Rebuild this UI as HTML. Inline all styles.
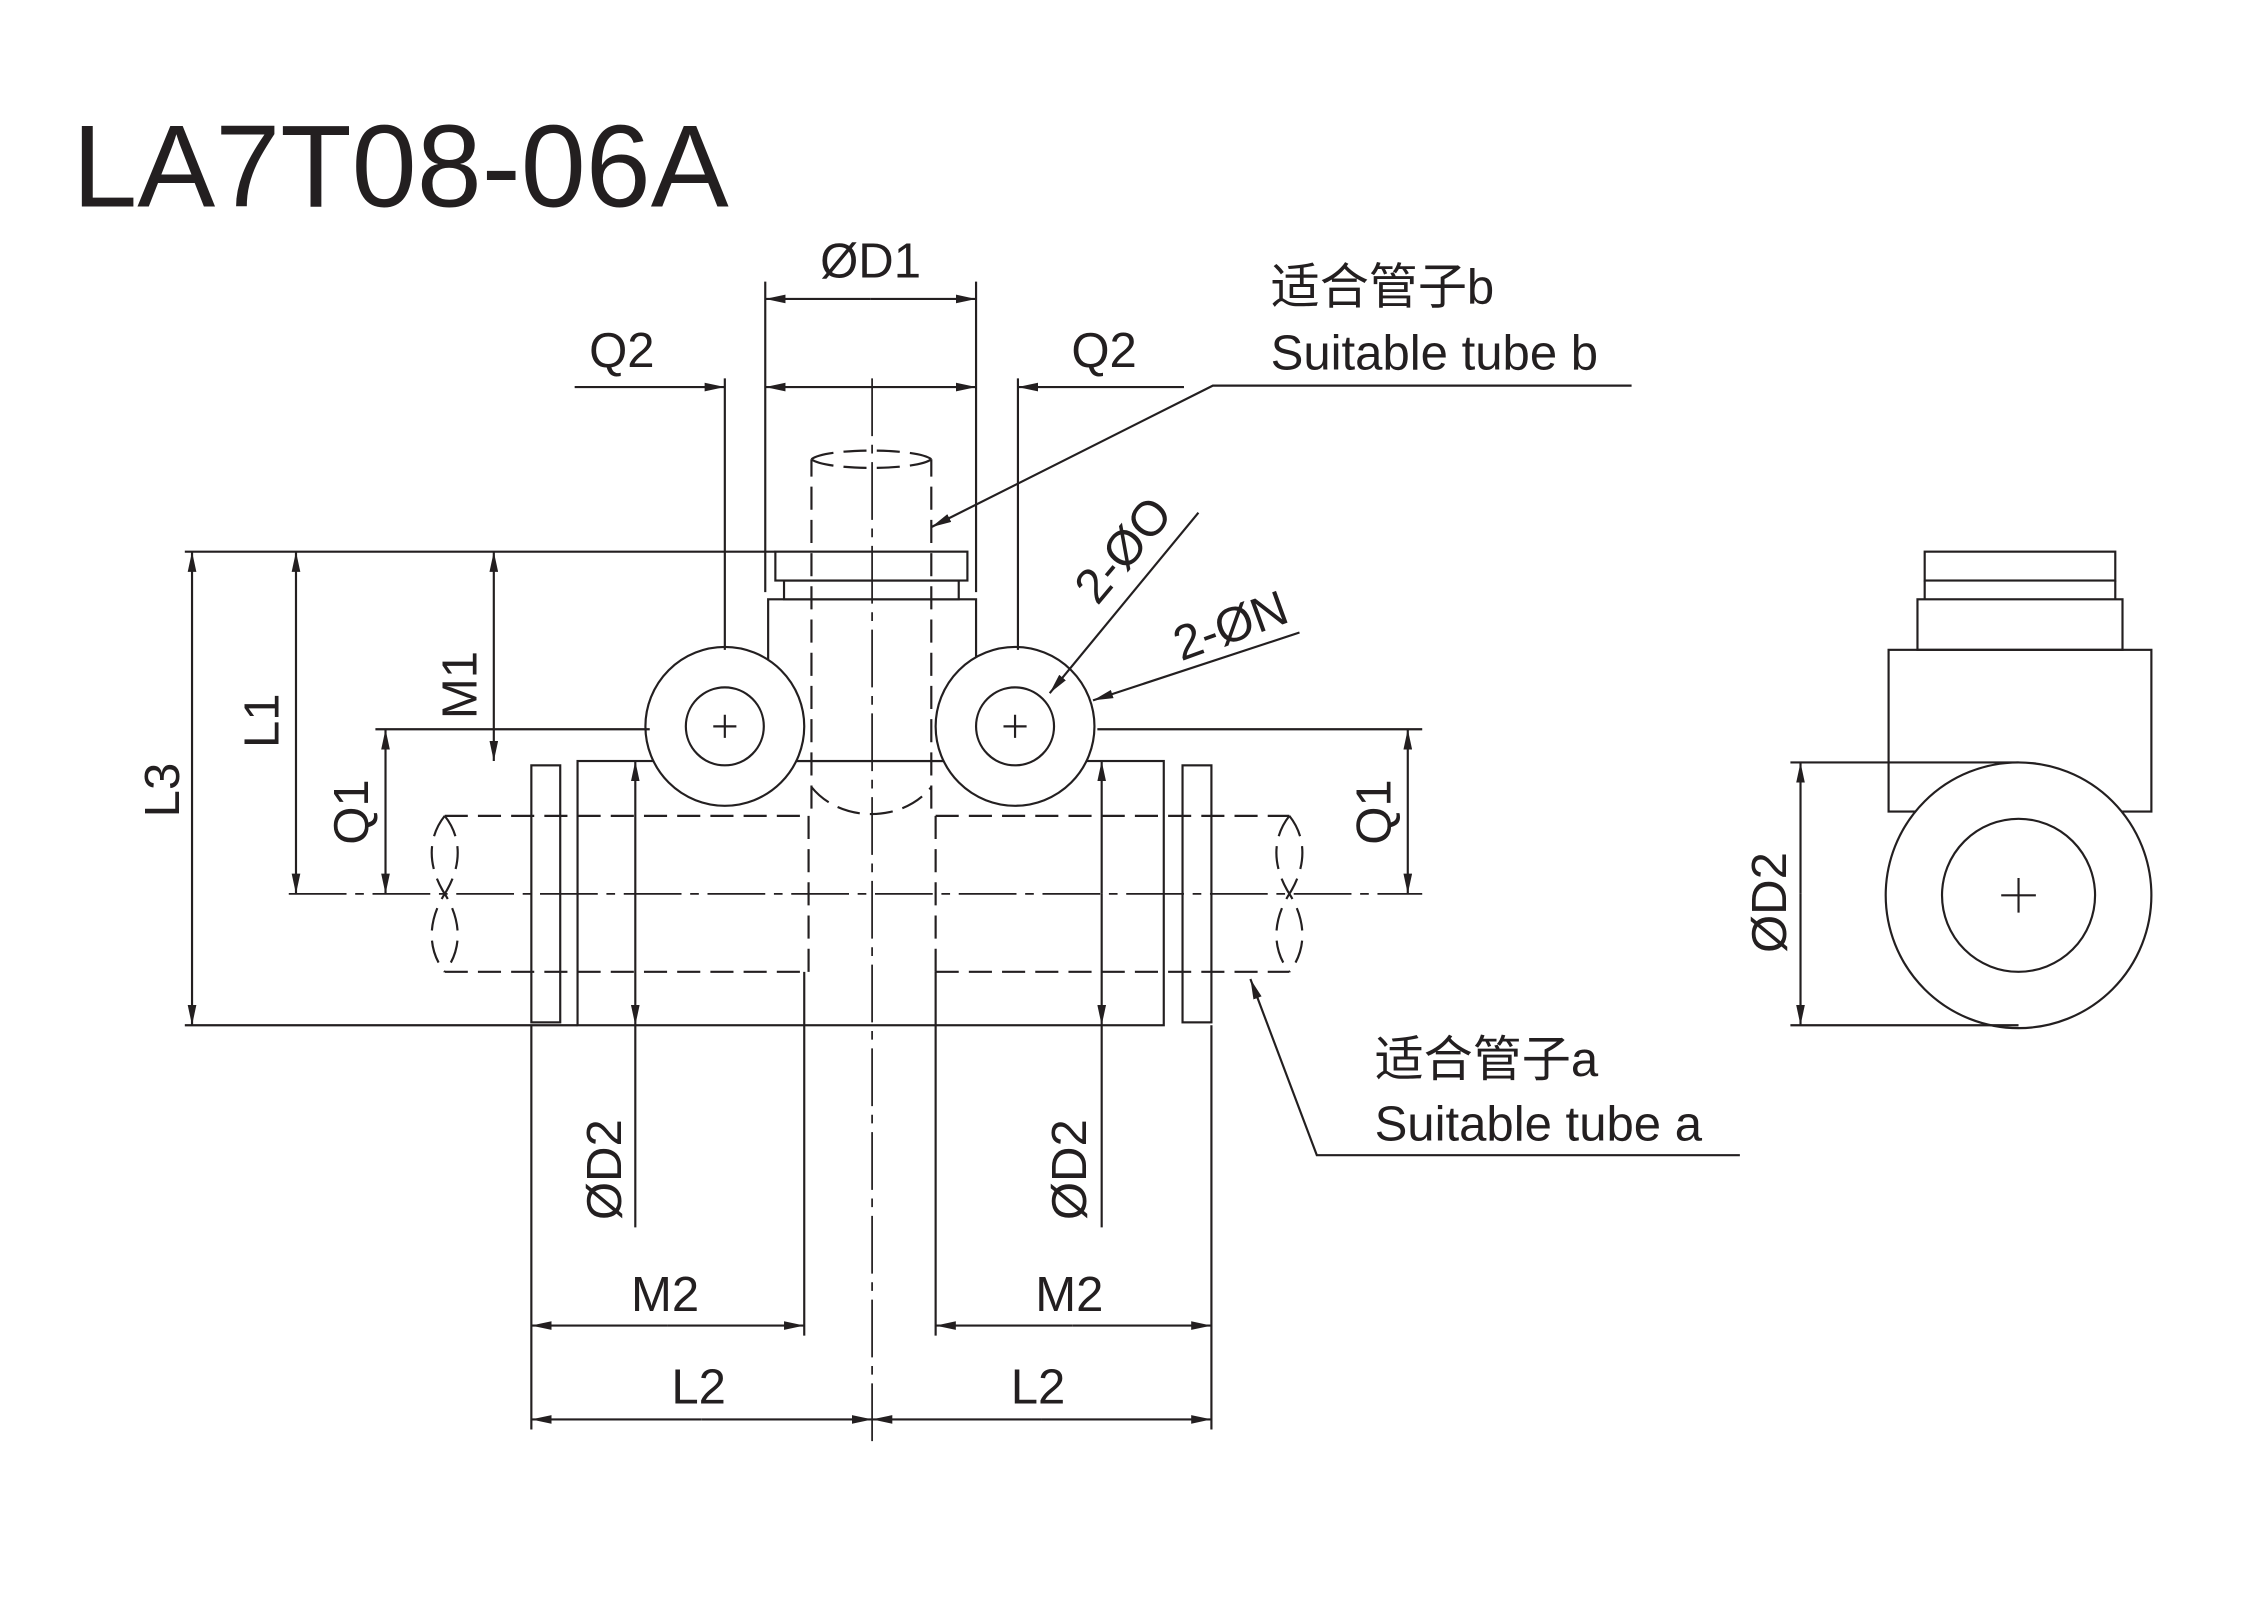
<!DOCTYPE html>
<html><head><meta charset="utf-8"><style>
html,body{margin:0;padding:0;background:#fff}
svg{display:block}
text{font-family:"Liberation Sans","Noto Sans CJK SC",sans-serif;fill:#231f20}
</style></head><body>
<svg width="2264" height="1600" viewBox="0 0 1568 1108" xmlns="http://www.w3.org/2000/svg">
<defs>
<marker id="a" markerWidth="14" markerHeight="6" refX="14" refY="3" orient="auto" markerUnits="userSpaceOnUse">
<path d="M0,0 L14,3 L0,6 z" fill="#231f20"/></marker>
</defs>
<text x="50" y="143" font-size="81">LA7T08-06A</text>
<g stroke="#231f20" stroke-width="1.5" fill="none">
<rect x="400" y="527" width="406" height="183" fill="#fff"/>
<rect x="532" y="415" width="144" height="112" fill="#fff"/>
<rect x="543" y="402" width="121" height="13" fill="#fff"/>
<rect x="537" y="382" width="133" height="20" fill="#fff"/>
<rect x="368" y="530" width="20" height="178" fill="#fff"/>
<rect x="819" y="530" width="20" height="178" fill="#fff"/>
<circle cx="502" cy="503" r="55" fill="#fff"/><circle cx="502" cy="503" r="27"/>
<circle cx="703" cy="503" r="55" fill="#fff"/><circle cx="703" cy="503" r="27"/>
<path d="M494,503h16M502,495v16M695,503h16M703,495v16"/>
<g stroke-dasharray="16,7">
<path d="M562,560V318M645,560V318M562,318c10,-8 73,-8 83,0M562,318c10,8 73,8 83,0"/>
<path d="M562,545c20,25 63,25 83,0"/>
<path d="M308,565H560M308,673H560M560,565V673M648,565V673M648,565H893M648,673H893"/>
<path d="M308,565c-12,15 -12,35 0,54c-12,19 -12,39 0,54M308,565c12,15 12,35 0,54c12,19 12,39 0,54"/>
<path d="M893,565c-12,15 -12,35 0,54c-12,19 -12,39 0,54M893,565c12,15 12,35 0,54c12,19 12,39 0,54"/>
</g>
<g stroke-dasharray="40,6,6,6" stroke-width="1.2">
<path d="M604,262V1000M200,619H985"/>
</g>
<path d="M128,382H537M128,710H400M260,505H450M760,505H985M368,710V990M557,673V925M648,673V925M839,710V990M530,195V410M676,195V410M502,262V450M705,262V450"/>
<g marker-end="url(#a)">
<path d="M133,546V382"/><path d="M133,546V710"/>
<path d="M205,500V382"/><path d="M205,500V619"/>
<path d="M342,455V382"/><path d="M342,455V527"/>
<path d="M267,562V505"/><path d="M267,562V619"/>
<path d="M975,562V505"/><path d="M975,562V619"/>
<path d="M440,619V527"/><path d="M440,619V710"/>
<path d="M763,619V527"/><path d="M763,619V710"/>
<path d="M462,918H368"/><path d="M462,918H557"/>
<path d="M743,918H648"/><path d="M743,918H839"/>
<path d="M486,983H368"/><path d="M486,983H604"/>
<path d="M721,983H604"/><path d="M721,983H839"/>
<path d="M603,207H530"/><path d="M603,207H676"/>
<path d="M1247,619V528"/><path d="M1247,619V710"/>
<path d="M398,268H502"/><path d="M604,268H530"/>
<path d="M604,268H676"/><path d="M820,268H705"/>
<path d="M1130,267H840L645,365"/>
<path d="M830,355L727,480"/>
<path d="M900,438L757,485"/>
<path d="M1205,800H912L866,678"/>
</g>
<path d="M440,710V850M763,710V850"/>
<rect x="1333" y="382" width="132" height="20"/>
<rect x="1328" y="415" width="142" height="35"/>
<path d="M1333,402v13M1465,402v13"/>
<rect x="1308" y="450" width="182" height="112"/>
<circle cx="1398" cy="620" r="92" fill="#fff"/><circle cx="1398" cy="620" r="53"/>
<path d="M1386,620h24M1398,608v24"/>
<path d="M1240,528H1398M1240,710H1398"/>
</g>
<g font-size="34">
<text x="568" y="192">ØD1</text>
<text x="408" y="254">Q2</text>
<text x="742" y="254">Q2</text>
<text x="880" y="210">适合管子b</text>
<text x="880" y="256">Suitable tube b</text>
<text x="952" y="745">适合管子a</text>
<text x="952" y="790">Suitable tube a</text>
<text x="437" y="908">M2</text>
<text x="717" y="908">M2</text>
<text x="465" y="972">L2</text>
<text x="700" y="972">L2</text>
<text transform="translate(124,566) rotate(-90)">L3</text>
<text transform="translate(193,518) rotate(-90)">L1</text>
<text transform="translate(330,498) rotate(-90)">M1</text>
<text transform="translate(255,585) rotate(-90)">Q1</text>
<text transform="translate(963,585) rotate(-90)">Q1</text>
<text transform="translate(430,845) rotate(-90)">ØD2</text>
<text transform="translate(752,845) rotate(-90)">ØD2</text>
<text transform="translate(1237,660) rotate(-90)">ØD2</text>
<text transform="translate(760,420) rotate(-50)">2-ØO</text>
<text transform="translate(818,458) rotate(-20)">2-ØN</text>
</g>
</svg>
</body></html>
